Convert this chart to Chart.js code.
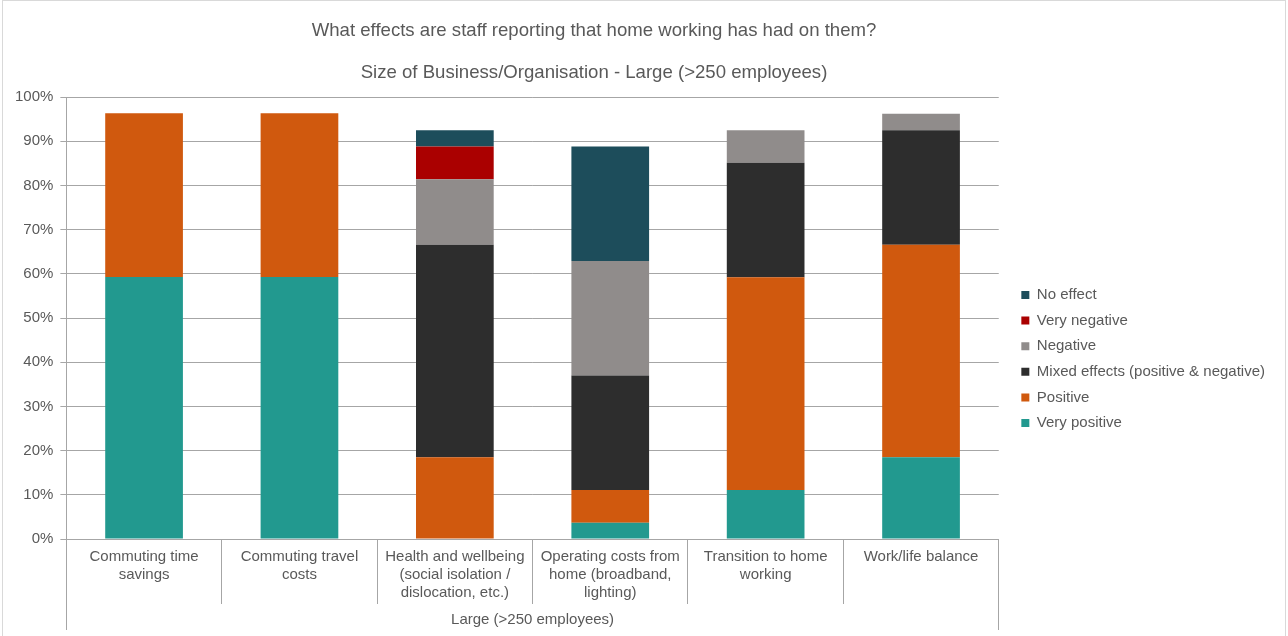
<!DOCTYPE html>
<html>
<head>
<meta charset="utf-8">
<script src="https://cdn.jsdelivr.net/npm/chart.js@4"></script>
<style>
    html, body { margin: 0; padding: 0; background: #fff; }
    #wrap { width: 1288px; height: 636px; }
</style>
</head>
<body>
<div id="wrap"><canvas id="effectsChart" width="1288" height="636"></canvas></div>
<script>
const chartTitle = "What effects are staff reporting that home working has had on them?";
const chartSubtitle = "Size of Business/Organisation - Large (>250 employees)";
const groupLabel = "Large (>250 employees)";

const categories = [
    ["Commuting time", "savings"],
    ["Commuting travel", "costs"],
    ["Health and wellbeing", "(social isolation /", "dislocation, etc.)"],
    ["Operating costs from", "home (broadband,", "lighting)"],
    ["Transition to home", "working"],
    ["Work/life balance"]
];

// share of respondents, %
const veryPositive = [59.3, 59.3, 0, 3.7, 11.1, 18.5];
const positive     = [37.0, 37.0, 18.5, 7.4, 48.1, 48.1];
const mixed        = [0, 0, 48.1, 25.9, 25.9, 25.9];
const negative     = [0, 0, 14.8, 25.9, 7.4, 3.7];
const veryNegative = [0, 0, 7.4, 0, 0, 0];
const noEffect     = [0, 0, 3.7, 25.9, 0, 0];

const yMin = 0, yMax = 100, yStep = 10;

const FONT = "'Liberation Sans', Arial, sans-serif";
const TEXT = "#595959";
const GRID = "#a6a6a6";

Chart.defaults.font.family = FONT;
Chart.defaults.color = TEXT;

// titles, frame and the group row under the category labels
const decorations = {
    id: "decorations",
    afterLayout(chart) {
        // a little air between the plot and the legend
        chart.legend.left += 12;
        chart.legend.right += 12;
    },
    beforeDraw(chart) {
        const ctx = chart.ctx;
        ctx.save();
        ctx.fillStyle = "#fff";
        ctx.fillRect(0, 0, chart.width, chart.height);
        ctx.strokeStyle = "#d9d9d9";
        ctx.lineWidth = 1;
        ctx.strokeRect(2.5, 0.5, chart.width - 5, chart.height + 10);
        ctx.restore();
    },
    afterDraw(chart) {
        const ctx = chart.ctx;
        const x = chart.scales.x;
        ctx.save();
        ctx.fillStyle = TEXT;
        ctx.textAlign = "center";
        ctx.textBaseline = "middle";
        ctx.font = "18.6px " + FONT;
        ctx.fillText(chartTitle, 594, 31);
        ctx.fillText(chartSubtitle, 594, 73);

        // outer separators run down past the category row to frame the group label
        ctx.strokeStyle = GRID;
        ctx.lineWidth = 1;
        ctx.beginPath();
        [x.left, x.right].forEach(px => {
            const p = Math.round(px - 0.5) + 0.5;
            ctx.moveTo(p, x.top);
            ctx.lineTo(p, x.top + 91);
        });
        ctx.stroke();

        ctx.font = "15px " + FONT;
        ctx.fillText(groupLabel, (x.left + x.right) / 2, x.top + 81);
        ctx.restore();
    }
};

const series = [
    { label: "Very positive", data: veryPositive, color: "#22998f" },
    { label: "Positive", data: positive, color: "#d0590e" },
    { label: "Mixed effects (positive & negative)", data: mixed, color: "#2d2d2d" },
    { label: "Negative", data: negative, color: "#908c8b" },
    { label: "Very negative", data: veryNegative, color: "#aa0000" },
    { label: "No effect", data: noEffect, color: "#1d4d5b" }
];

new Chart(document.getElementById("effectsChart"), {
    type: "bar",
    data: {
        labels: categories,
        datasets: series.map(s => ({
            label: s.label,
            data: s.data,
            backgroundColor: s.color,
            borderWidth: 0,
            categoryPercentage: 1,
            barPercentage: 0.5
        }))
    },
    options: {
        responsive: false,
        animation: false,
        layout: { padding: { top: 97, left: 8, right: 25, bottom: 15 } },
        plugins: {
            title: { display: false },
            tooltip: { enabled: false },
            legend: {
                position: "right",
                reverse: true,
                labels: {
                    boxWidth: 8,
                    boxHeight: 8,
                    padding: 10.6,
                    color: TEXT,
                    font: { size: 15 }
                }
            }
        },
        scales: {
            x: {
                stacked: true,
                grid: { offset: true, drawOnChartArea: false, tickLength: 65, color: GRID },
                border: { color: GRID },
                ticks: {
                    padding: -56,
                    maxRotation: 0,
                    autoSkip: false,
                    color: TEXT,
                    font: { size: 15, lineHeight: 1.2 }
                },
                afterFit(scale) { scale.height = 82; }
            },
            y: {
                stacked: true,
                min: yMin,
                max: yMax,
                grid: { color: GRID, tickLength: 6 },
                border: { color: GRID },
                ticks: {
                    stepSize: yStep,
                    padding: 7,
                    color: TEXT,
                    font: { size: 15 },
                    callback: v => v + "%"
                }
            }
        }
    },
    plugins: [decorations]
});
</script>
</body>
</html>
